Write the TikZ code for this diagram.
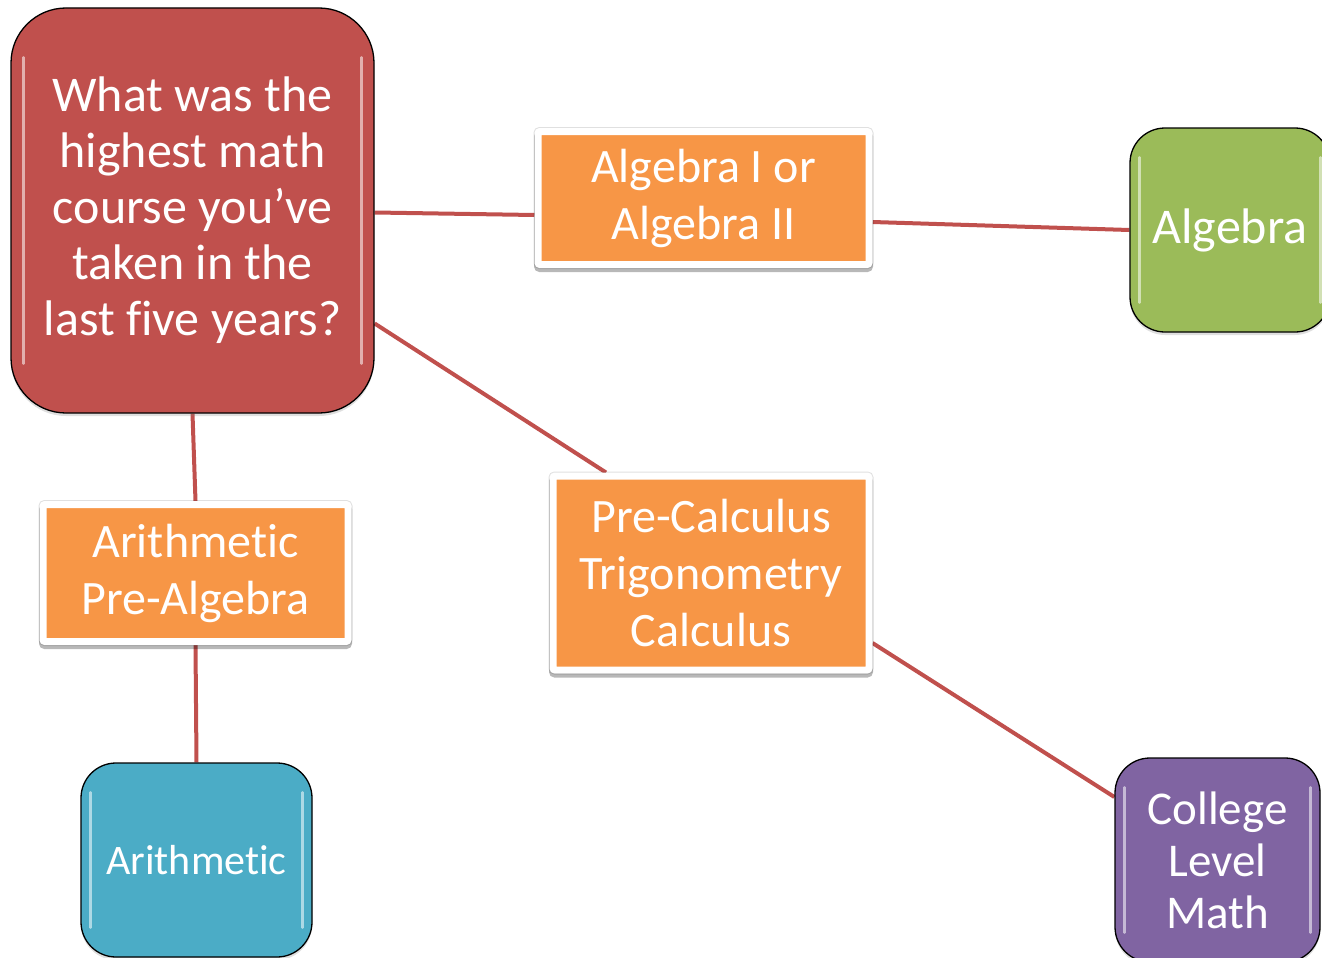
\documentclass[tikz,border=0pt]{standalone}
\usepackage{fontspec}
\setmainfont{Carlito}[Ligatures=NoCommon]
\usetikzlibrary{shadows,calc,backgrounds}
\definecolor{qred}{HTML}{C0504D}
\definecolor{lnred}{HTML}{C0504D}
\definecolor{oran}{HTML}{F79646}
\definecolor{grn}{HTML}{9BBB59}
\definecolor{blu}{HTML}{4BACC6}
\definecolor{purp}{HTML}{8064A2}
\begin{document}
\begin{tikzpicture}[x=1pt,y=-1pt,
  gloss/.style={draw=black, line width=1.3pt, text=white, align=center, inner sep=0pt,
    drop shadow={opacity=0.25, shadow xshift=0pt, shadow yshift=-3pt}},
  obox/.style={draw=white, line width=7pt, fill=oran, text=white, align=center, inner sep=0pt,
    rounded corners=2pt, font=\fontsize{48}{57}\selectfont,
    general shadow={draw=black, fill=black, line width=9pt, opacity=0.12, shadow xshift=0pt, shadow yshift=0pt},
    general shadow={draw=black, fill=black, line width=8pt, opacity=0.28, shadow xshift=0pt, shadow yshift=-3.5pt}},
  conn/.style={draw=lnred, line width=4pt},
  hl/.style={draw=white, line width=2.5pt, opacity=0.55, line cap=round}]
\useasboundingbox (0,0) rectangle (1322,958);
% nodes
\node[gloss, fill=qred, minimum width=363pt, minimum height=405pt, rounded corners=55pt,
  font=\fontsize{50}{56}\selectfont] (q) at (192.5,210.5)
  {What was the\\highest math\\course you’ve\\taken in the\\last five years?};
\node[obox, minimum width=331pt, minimum height=133pt] (a1) at (703.5,198)
  {Algebra I or\\Algebra II};
\node[obox, minimum width=316pt, minimum height=194pt] (pc) at (711,573)
  {Pre-Calculus\\Trigonometry\\Calculus};
\node[obox, minimum width=305pt, minimum height=137pt] (ap) at (195.5,573)
  {Arithmetic\\Pre-Algebra};
\node[gloss, fill=grn, minimum width=200pt, minimum height=204pt, rounded corners=35pt,
  font=\fontsize{50}{56}\selectfont] (alg) at (1230,230) {Algebra};
\node[gloss, fill=blu, minimum width=231pt, minimum height=194pt, rounded corners=35pt,
  font=\fontsize{42}{48}\selectfont] (ar) at (196.5,860) {Arithmetic};
\node[gloss, fill=purp, minimum width=205pt, minimum height=204pt, rounded corners=35pt,
  font=\fontsize{47}{52}\selectfont] (col) at (1217.5,860) {College\\Level\\Math};
% highlights
\foreach \n/\dx/\dy in {q/13/50, alg/10/30, ar/10/30, col/10/30}{
  \draw[hl] ($(\n.north west)+(\dx,\dy)$) -- ($(\n.south west)+(\dx,-\dy)$);
  \draw[hl] ($(\n.north east)+(-\dx,\dy)$) -- ($(\n.south east)+(-\dx,-\dy)$);
}
% connectors
\begin{scope}[on background layer]
\draw[conn] ([yshift=-2pt]q.east) -- ([yshift=-17pt]a1.west);
\draw[conn] ([yshift=-24pt]a1.east) -- (alg.west);
\draw[conn] ([yshift=-113pt]q.east) -- ([xshift=-105pt]pc.north);
\draw[conn] ([yshift=-70pt]pc.east) -- ([yshift=63pt]col.west);
\draw[conn] (q.south) -- (ap.north);
\draw[conn] (ap.south) -- (ar.north);
\end{scope}
\end{tikzpicture}
\end{document}
